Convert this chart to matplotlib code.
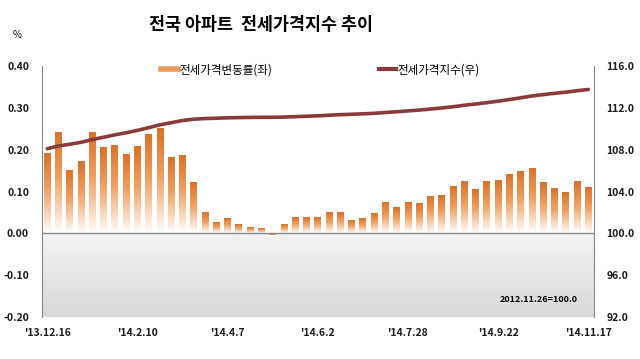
import numpy as np
import matplotlib
matplotlib.use('Agg')
import matplotlib.pyplot as plt
from matplotlib.colors import LinearSegmentedColormap
from matplotlib.lines import Line2D

plt.rcParams['font.family'] = ['Noto Sans CJK KR', 'DejaVu Sans']

# 주간 데이터: '13.12.16 ~ '14.11.17 (49주)
rate = [0.19, 0.24, 0.15, 0.17, 0.24, 0.205, 0.21, 0.187, 0.206, 0.235,
        0.25, 0.18, 0.186, 0.12, 0.048, 0.026, 0.035, 0.02, 0.014, 0.01,
        -0.003, 0.02, 0.037, 0.037, 0.037, 0.05, 0.05, 0.03, 0.034, 0.046,
        0.072, 0.062, 0.073, 0.071, 0.087, 0.09, 0.111, 0.122, 0.105, 0.122,
        0.125, 0.139, 0.146, 0.155, 0.12, 0.106, 0.096, 0.122, 0.108]
index_val = [108.10, 108.36, 108.52, 108.71, 108.97, 109.19, 109.42, 109.62, 109.85, 110.11,
             110.38, 110.58, 110.79, 110.92, 110.98, 111.01, 111.05, 111.07, 111.09, 111.10,
             111.10, 111.12, 111.16, 111.20, 111.24, 111.30, 111.35, 111.39, 111.43, 111.48,
             111.56, 111.63, 111.71, 111.79, 111.89, 111.99, 112.11, 112.25, 112.37, 112.50,
             112.64, 112.80, 112.96, 113.14, 113.27, 113.39, 113.50, 113.64, 113.76]
tick_labels = ["'13.12.16", "'14.2.10", "'14.4.7", "'14.6.2", "'14.7.28", "'14.9.22", "'14.11.17"]
tick_idx = [0, 8, 16, 24, 32, 40, 48]

n = len(rate)
x = np.arange(n)

bar_cmap = LinearSegmentedColormap.from_list(
    'bar', [(0, '#ffffff'), (0.12, '#fce9d9'), (0.55, '#f0a062'), (1, '#d8732b')])
bg_cmap = LinearSegmentedColormap.from_list('bg', ['#d9d9d9', '#f4f4f4'])

fig = plt.figure(figsize=(6.4, 3.59), dpi=100)
ax = fig.add_axes([0.065, 0.117, 0.863, 0.699])

# 0 아래 회색 배경
grad = np.linspace(0, 1, 100).reshape(-1, 1)
ax.imshow(grad, extent=[-0.5, n - 0.5, -0.2, 0], origin='lower', cmap=bg_cmap,
          aspect='auto', zorder=0)

# 그라데이션 막대
w = 0.6
for xi, v in zip(x, rate):
    ax.imshow(grad, extent=[xi - w / 2, xi + w / 2, 0, v], origin='lower', cmap=bar_cmap,
              aspect='auto', zorder=2)

ax.axhline(0, color='#8a8a8a', lw=1, zorder=3)
ax.set_xlim(-0.5, n - 0.5)
ax.set_ylim(-0.2, 0.4)
ax.set_yticks(np.arange(-0.2, 0.41, 0.1))
ax.set_yticklabels([f'{t:.2f}' for t in np.arange(-0.2, 0.41, 0.1)])
ax.set_xticks(tick_idx)
ax.set_xticklabels(tick_labels)
for s in ['top', 'bottom', 'right']:
    ax.spines[s].set_visible(False)
ax.spines['left'].set_color('#868686')
ax.tick_params(length=0, labelsize=7.5, colors='#1a1a1a')
ax.tick_params(axis='y', pad=9)
ax.tick_params(axis='x', pad=8)
for lab in ax.get_xticklabels() + ax.get_yticklabels():
    lab.set_fontweight('bold')

ax2 = ax.twinx()
ax2.plot(x, index_val, color='#8b3a3a', lw=2.6, solid_capstyle='round', zorder=5)
ax2.set_ylim(92, 116)
ax2.set_yticks(np.arange(92, 117, 4))
ax2.set_yticklabels([f'{t:.1f}' for t in np.arange(92, 117, 4)])
for s in ['top', 'bottom', 'left']:
    ax2.spines[s].set_visible(False)
ax2.spines['right'].set_color('#868686')
ax2.tick_params(length=0, labelsize=7.5, colors='#1a1a1a', pad=9)
for lab in ax2.get_yticklabels():
    lab.set_fontweight('bold')

ax.text(43.6, -0.158, '2012.11.26=100.0', fontsize=6.5, fontweight='bold',
        ha='center', va='center', zorder=6)

handles = [Line2D([], [], color='#eb9a5a', lw=4),
           Line2D([], [], color='#8b3a3a', lw=3)]
fig.legend(handles, ['전세가격변동률(좌)', '전세가격지수(우)'], ncol=2, loc='center',
           bbox_to_anchor=(0.5, 0.805), frameon=False, fontsize=8.3,
           handlelength=1.5, handletextpad=0.1, columnspacing=9.3)

fig.text(0.408, 0.93, '전국 아파트  전세가격지수 추이', ha='center', va='center',
         fontsize=12.5, fontweight='bold')
fig.text(17 / 640, 1 - 35 / 359, '%', fontsize=7, ha='center', va='center')

fig.savefig('out.png', dpi=100)
